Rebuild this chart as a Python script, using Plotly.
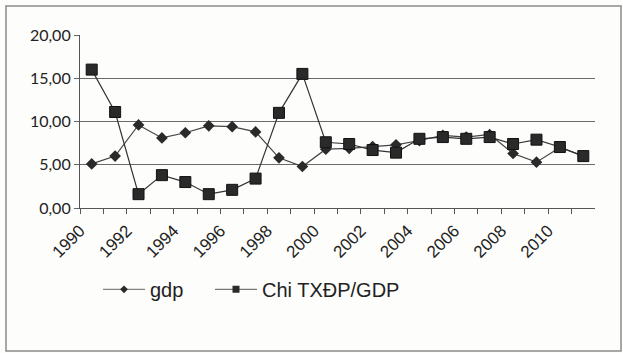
import plotly.graph_objects as go

years = list(range(1990, 2012))
gdp = [5.1, 6.0, 9.6, 8.1, 8.7, 9.5, 9.4, 8.8, 5.8, 4.8, 6.8, 6.9, 7.1, 7.3,
       7.8, 8.4, 8.2, 8.5, 6.3, 5.3, 7.0, 6.0]
chi = [16.0, 11.1, 1.6, 3.8, 3.0, 1.6, 2.1, 3.4, 11.0, 15.5, 7.6, 7.4, 6.7, 6.4,
       8.0, 8.2, 8.0, 8.2, 7.4, 7.9, 7.05, 6.0]
x_labels = [str(y) for y in range(1990, 2012, 2)]
y_ticks = [0, 5, 10, 15, 20]
y_labels = ["0,00", "5,00", "10,00", "15,00", "20,00"]

W, H = 623, 353
L, R, T, B = 80, 28, 35, 145
PW = W - L - R

fig = go.Figure()
fig.add_trace(go.Scatter(
    x=years, y=gdp, name="gdp", mode="lines+markers", showlegend=False,
    line=dict(color="#444444", width=1.2),
    marker=dict(symbol="diamond", size=9, color="#2a2a2a"),
))
fig.add_trace(go.Scatter(
    x=years, y=chi, name="Chi TXĐP/GDP", mode="lines+markers", showlegend=False,
    line=dict(color="#333333", width=1.2),
    marker=dict(symbol="square", size=11, color="#2a2a2a",
                line=dict(color="#111111", width=1)),
))
# legend entries with the small legend symbols of the reference
fig.add_trace(go.Scatter(
    x=[None], y=[None], name="gdp", mode="lines+markers", legend="legend",
    line=dict(color="#666666", width=1),
    marker=dict(symbol="diamond", size=6, color="#2a2a2a"),
))
fig.add_trace(go.Scatter(
    x=[None], y=[None], name="Chi TXĐP/GDP", mode="lines+markers", legend="legend2",
    line=dict(color="#555555", width=1),
    marker=dict(symbol="square", size=7, color="#2a2a2a"),
))

leg_font = dict(family="Liberation Sans, Arial, sans-serif", size=20, color="#222222")
fig.update_layout(
    width=W, height=H,
    margin=dict(l=L, r=R, t=T, b=B, autoexpand=False),
    paper_bgcolor="#fdfdfb",
    plot_bgcolor="#fdfdfb",
    showlegend=True,
    legend=dict(
        orientation="h", x=(98 - L) / PW, xanchor="left", y=-0.47, yanchor="middle",
        font=leg_font, bgcolor="rgba(0,0,0,0)", itemwidth=42,
    ),
    legend2=dict(
        orientation="h", x=(210 - L) / PW, xanchor="left", y=-0.47, yanchor="middle",
        font=leg_font, bgcolor="rgba(0,0,0,0)", itemwidth=42,
    ),
    shapes=[
        dict(type="rect", xref="paper", yref="paper",
             x0=-(L - 6) / PW, x1=1 + (R - 2) / PW,
             y0=-(B - 2) / (H - T - B), y1=1 + (T - 6) / (H - T - B),
             line=dict(color="#8a8a8a", width=1.5), layer="below"),
    ],
)

# Excel-style category axis: tick marks on category boundaries,
# labels written at the left boundary of every other year
fig.update_xaxes(
    range=[1989.5, 2011.5],
    automargin=False,
    tickmode="array",
    tickvals=[int(v) - 0.5 for v in x_labels],
    ticktext=x_labels,
    tickangle=-45,
    ticks="outside", ticklen=5, tickcolor="#555555", tickwidth=1,
    tickfont=dict(family="Liberation Sans, Arial, sans-serif", size=17, color="#222222"),
    showgrid=False,
    showline=True, linecolor="#555555", linewidth=1.2,
    zeroline=False,
    minor=dict(tickvals=[y + 0.5 for y in range(1990, 2012, 2)], ticks="outside",
               ticklen=5, tickcolor="#555555", tickwidth=1, showgrid=False),
)
fig.update_yaxes(
    range=[0, 20],
    automargin=False,
    tickmode="array",
    tickvals=y_ticks,
    ticktext=y_labels,
    ticks="outside", ticklen=5, tickcolor="#666666",
    tickfont=dict(family="Lato, Open Sans, sans-serif", size=16, color="#222222"),
    showgrid=True, gridcolor="#6a6a6a", gridwidth=1.2,
    showline=True, linecolor="#555555", linewidth=1.2,
    zeroline=False,
)

fig.write_html("out.html", config={"displayModeBar": False},
               post_script="document.body.style.margin='0';document.body.style.overflow='hidden';")
